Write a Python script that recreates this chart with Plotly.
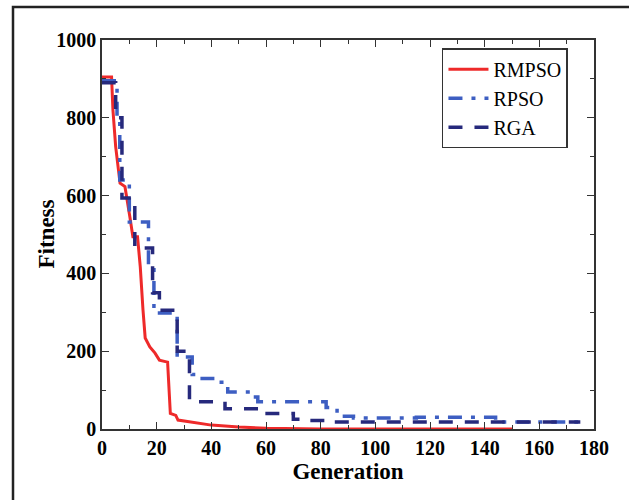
import plotly.graph_objects as go

# RMPSO (red, solid)
rmpso_gen = [0, 3.5, 4, 5, 6.6, 8.4, 10.2, 11.3, 13, 14, 15, 15.8, 17.5, 19.4, 21, 24, 25, 27, 27.8, 32, 40, 50, 60, 80, 150]
rmpso_fit = [905, 905, 820, 726, 632, 623, 545, 494, 494, 417, 306, 234, 211, 195, 177, 172, 40, 35, 23, 18, 10, 5, 2, 0, 0]

# RPSO (blue, dash-dot) – step values
rpso_gen = [0, 5.5, 6.5, 10, 17, 19, 20, 27.5, 31, 33, 36, 42, 46, 55, 57, 82, 86, 92, 115, 144, 175]
rpso_fit = [895, 800, 640, 532, 420, 305, 298, 185, 185, 140, 130, 120, 95, 82, 70, 55, 33, 28, 30, 18, 18]

# RGA (dark navy, dashed) – step values
rga_gen = [0, 5, 7.3, 12, 18.5, 21, 27.5, 32, 45, 58, 70, 76, 85, 175]
rga_fit = [890, 800, 594, 465, 350, 305, 200, 70, 52, 40, 25, 22, 18, 18]

fig = go.Figure()
fig.add_trace(go.Scatter(x=rmpso_gen, y=rmpso_fit, mode="lines", name="RMPSO",
                         line=dict(color="#ee2a2a", width=3)))
fig.add_trace(go.Scatter(x=rpso_gen, y=rpso_fit, mode="lines", name="RPSO",
                         line=dict(color="#3d5ec2", width=3.5, shape="hv", dash="14px,9px,4px,9px")))
fig.add_trace(go.Scatter(x=rga_gen, y=rga_fit, mode="lines", name="RGA",
                         line=dict(color="#26297c", width=3.5, shape="hv", dash="14px,12px")))

tickfont = dict(family="Liberation Serif", size=20, color="black")
axis_common = dict(showline=True, linecolor="#333", linewidth=1.5, mirror="ticks",
                   ticks="inside", ticklen=7, tickwidth=1.3, tickcolor="#333",
                   showgrid=False, zeroline=False, tickfont=tickfont)

fig.update_layout(
    width=629, height=500,
    margin=dict(l=102, r=35, t=40, b=71),
    paper_bgcolor="white", plot_bgcolor="white",
    font=dict(family="Liberation Serif", color="black"),
    xaxis=dict(range=[0, 180], dtick=20, tick0=0,
               minor=dict(ticks="inside", ticklen=4, dtick=10, tickcolor="#333", tickwidth=1.2),
               title=dict(text="<b>Generation</b>", font=dict(family="Liberation Serif", size=23), standoff=2),
               tickprefix="<b>", ticksuffix="</b>", **axis_common),
    yaxis=dict(range=[0, 1000], dtick=200, tick0=0,
               minor=dict(ticks="inside", ticklen=4, dtick=100, tickcolor="#333", tickwidth=1.2),
               tickprefix="<b>", ticksuffix="</b>", **axis_common),
    legend=dict(x=0.691, y=0.979, xanchor="left", yanchor="top",
                bordercolor="#333", borderwidth=1.5, bgcolor="white",
                font=dict(family="Liberation Serif", size=20, color="black"),
                tracegroupgap=0, itemwidth=40),
    showlegend=True,
)

fig.add_annotation(text="<b>Fitness</b>", xref="paper", yref="paper",
                   x=(46 - 102) / 492, y=0.5, textangle=-90, showarrow=False,
                   xanchor="center", yanchor="middle",
                   font=dict(family="Liberation Serif", size=23, color="black"))

# outer frame around the figure
fig.add_shape(type="rect", xref="paper", yref="paper",
              x0=(13 - 102) / 492, x1=(650 - 102) / 492,
              y0=(429 - 520) / 389, y1=(429 - 7) / 389,
              line=dict(color="#222", width=2.5), layer="above")

fig.write_html("out.html")
